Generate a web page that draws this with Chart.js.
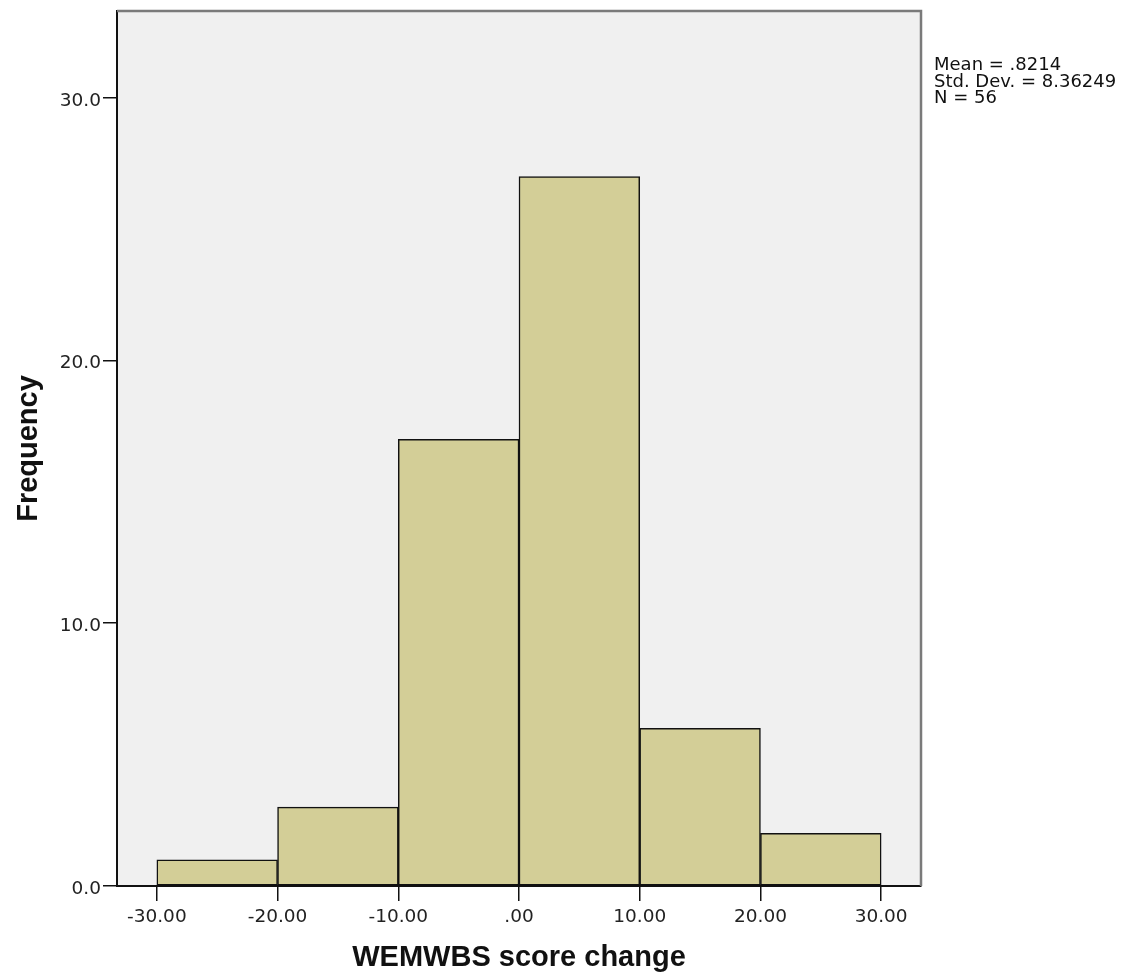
<!DOCTYPE html>
<html>
<head>
<meta charset="utf-8">
<script src="https://cdn.jsdelivr.net/npm/chart.js@4/dist/chart.umd.min.js"></script>
<style>
html,body{margin:0;padding:0;background:#fff;}
#wrap{position:relative;width:1141px;height:980px;}
</style>
</head>
<body>
<div id="wrap"><canvas id="c" width="1141" height="980"></canvas></div>
<script>
const binCenters = [-25, -15, -5, 5, 15, 25];
const frequencies = [1, 3, 17, 27, 6, 2];
const xTickValues = [-30, -20, -10, 0, 10, 20, 30];
const xTickLabels = ['-30.00', '-20.00', '-10.00', '.00', '10.00', '20.00', '30.00'];
const yTickValues = [0, 10, 20, 30];
const yTickLabels = ['0.0', '10.0', '20.0', '30.0'];
const statsLines = ['Mean = .8214', 'Std. Dev. = 8.36249', 'N = 56'];
const xTitle = 'WEMWBS score change';
const yTitle = 'Frequency';

const TICKFONT = "'DejaVu Sans', Verdana, sans-serif";
const TITLEFONT = "'Liberation Sans', Arial, sans-serif";

const bgPlugin = {
  id: 'plotBg',
  beforeDraw(chart) {
    const {ctx, chartArea: a} = chart;
    ctx.save();
    ctx.fillStyle = '#F0F0F0';
    ctx.fillRect(a.left, a.top, a.right - a.left, a.bottom - a.top);
    ctx.restore();
  },
  afterDraw(chart) {
    const {ctx, chartArea: a} = chart;
    ctx.save();
    ctx.strokeStyle = '#7a7a7a';
    ctx.lineWidth = 2.5;
    ctx.beginPath();
    ctx.moveTo(a.left, a.top);
    ctx.lineTo(a.right, a.top);
    ctx.lineTo(a.right, a.bottom);
    ctx.stroke();
    ctx.fillStyle = '#111';
    ctx.font = '18px ' + TICKFONT;
    ctx.textBaseline = 'alphabetic';
    ctx.textAlign = 'left';
    statsLines.forEach((t, i) => ctx.fillText(t, a.right + 13, 70 + i * 16.5));
    ctx.restore();
  }
};

new Chart(document.getElementById('c'), {
  type: 'bar',
  data: {
    datasets: [{
      data: binCenters.map((x, i) => ({x: x, y: frequencies[i]})),
      backgroundColor: '#D3CE97',
      borderColor: '#111',
      borderWidth: 1.5,
      borderSkipped: false,
      barPercentage: 1,
      categoryPercentage: 1
    }]
  },
  options: {
    responsive: false,
    animation: false,
    layout: {padding: {left: 0, right: 220, top: 11, bottom: 0}},
    plugins: {legend: {display: false}, tooltip: {enabled: false}},
    scales: {
      x: {
        type: 'linear',
        offset: false,
        min: -33.3,
        max: 33.3,
        afterFit(s) { s.height = 94; s.paddingLeft = 0; s.paddingRight = 0; },
        afterBuildTicks(s) { s.ticks = xTickValues.map(v => ({value: v})); },
        ticks: {
          autoSkip: false,
          maxRotation: 0,
          padding: 5,
          color: '#222',
          font: {family: TICKFONT, size: 18.5},
          callback: (v) => xTickLabels[xTickValues.indexOf(v)]
        },
        grid: {offset: false, drawOnChartArea: false, drawTicks: true, tickLength: 15, color: '#111', lineWidth: 1.5},
        border: {display: true, color: '#111', width: 2},
        title: {display: true, text: xTitle, color: '#111', font: {family: TITLEFONT, size: 29, weight: 'bold'}, padding: {top: 0, bottom: 5}}
      },
      y: {
        type: 'linear',
        min: 0,
        max: 33.3,
        afterFit(s) { s.width = 117; s.paddingTop = 0; s.paddingBottom = 0; },
        afterBuildTicks(s) { s.ticks = yTickValues.map(v => ({value: v})); },
        ticks: {
          autoSkip: false,
          padding: 2,
          labelOffset: 3,
          color: '#222',
          font: {family: TICKFONT, size: 18.5},
          callback: (v) => yTickLabels[yTickValues.indexOf(v)]
        },
        grid: {offset: false, drawOnChartArea: false, drawTicks: true, tickLength: 14, color: '#111', lineWidth: 1.5},
        border: {display: true, color: '#111', width: 2},
        title: {display: true, text: yTitle, color: '#111', font: {family: TITLEFONT, size: 29, weight: 'bold'}, padding: {top: 12, bottom: 0}}
      }
    }
  },
  plugins: [bgPlugin]
});
</script>
</body>
</html>
